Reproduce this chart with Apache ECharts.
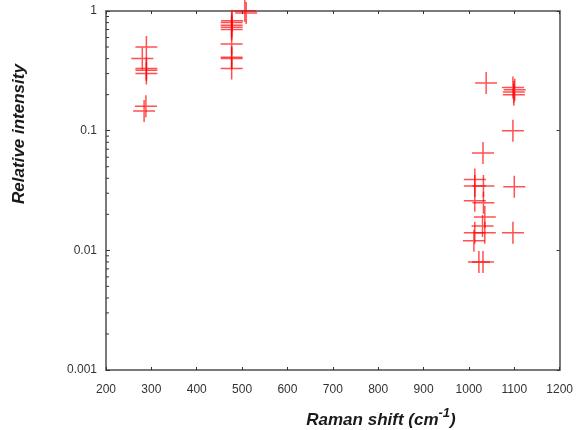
<!DOCTYPE html>
<html>
<head>
<meta charset="utf-8">
<script src="https://cdn.jsdelivr.net/npm/echarts@6/dist/echarts.min.js"></script>
<style>
html,body{margin:0;padding:0;background:#fff;}
#chart{width:576px;height:430px;}
</style>
</head>
<body>
<div id="chart"></div>
<script>
// Raman shift (cm^-1)
var ramanShift = [
  289, 280, 289, 289, 289, 288, 284,
  506, 509, 478, 477, 477, 477, 477, 477, 477, 477, 477,
  1038, 1097, 1101, 1099, 1099, 1097, 1031,
  1013, 1013, 1032, 1013, 1032, 1035, 1030, 1013, 1035, 1011,
  1100, 1097, 1022, 1031
];
// Relative intensity
var relIntensity = [
  0.50, 0.40, 0.33, 0.32, 0.30, 0.16, 0.146,
  1.0, 0.96, 0.83, 0.80, 0.76, 0.73, 0.70, 0.53, 0.41, 0.40, 0.33,
  0.25, 0.23, 0.22, 0.21, 0.20, 0.10, 0.065,
  0.039, 0.0345, 0.0345, 0.026, 0.025, 0.019, 0.016, 0.014, 0.014, 0.012,
  0.034, 0.014, 0.008, 0.008
];
var xTicks = [200, 300, 400, 500, 600, 700, 800, 900, 1000, 1100, 1200];
var yTickLabels = ['0.001', '0.01', '0.1', '1'];
var minorTickValues = [
  0.002, 0.003, 0.004, 0.005, 0.006, 0.007, 0.008, 0.009,
  0.02, 0.03, 0.04, 0.05, 0.06, 0.07, 0.08, 0.09,
  0.2, 0.3, 0.4, 0.5, 0.6, 0.7, 0.8, 0.9
];

var points = ramanShift.map(function (x, i) { return [x, relIntensity[i]]; });
var axisColor = '#7a7a7a';
var labelFont = 'Liberation Sans, Arial, sans-serif';

var chart = echarts.init(document.getElementById('chart'), null, {renderer: 'canvas'});
chart.setOption({
  animation: false,
  backgroundColor: '#ffffff',
  grid: {left: 106, right: 15, top: 11, bottom: 60, containLabel: false},
  xAxis: [{
    type: 'value', position: 'bottom',
    min: xTicks[0], max: xTicks[xTicks.length - 1], interval: 100,
    axisLine: {show: true, onZero: false, lineStyle: {color: axisColor, width: 2}},
    axisTick: {show: true, inside: true, length: 3, lineStyle: {color: '#333', width: 1}},
    axisLabel: {
      color: '#333', fontFamily: labelFont, fontSize: 12, margin: 14,
      formatter: function (v) { return String(v); }
    },
    splitLine: {show: false}
  }, {
    type: 'value', position: 'top',
    min: xTicks[0], max: xTicks[xTicks.length - 1], interval: 100,
    axisLine: {show: true, onZero: false, lineStyle: {color: axisColor, width: 2}},
    axisTick: {show: true, inside: true, length: 3, lineStyle: {color: '#333', width: 1}},
    axisLabel: {show: false},
    splitLine: {show: false}
  }],
  yAxis: [{
    type: 'log', logBase: 10, position: 'left',
    min: 0.001, max: 1,
    axisLine: {show: true, onZero: false, lineStyle: {color: axisColor, width: 2}},
    axisTick: {show: true, inside: true, length: 4, lineStyle: {color: '#333', width: 1}},
    axisLabel: {
      color: '#333', fontFamily: labelFont, fontSize: 12, margin: 9,
      formatter: function (v) {
        var e = Math.round(Math.log10(v));
        return yTickLabels[e + 3];
      }
    },
    splitLine: {show: false}
  }, {
    type: 'log', logBase: 10, position: 'right',
    min: 0.001, max: 1,
    axisLine: {show: true, onZero: false, lineStyle: {color: axisColor, width: 2}},
    axisTick: {show: true, inside: true, length: 3, lineStyle: {color: '#333', width: 1}},
    axisLabel: {show: false},
    splitLine: {show: false}
  }],
  series: [{
    type: 'custom',
    xAxisIndex: 0, yAxisIndex: 0,
    silent: true, clip: false,
    data: minorTickValues.map(function (v) { return [xTicks[0], v]; }),
    renderItem: function (params, api) {
      var p = api.coord([api.value(0), api.value(1)]);
      return {
        type: 'line',
        shape: {x1: p[0], y1: p[1], x2: p[0] + 3, y2: p[1]},
        style: {stroke: '#333', lineWidth: 1}
      };
    }
  }, {
    type: 'scatter',
    xAxisIndex: 0, yAxisIndex: 0,
    clip: false,
    data: points,
    symbol: 'path://M10,0 L10,20 M0,10 L20,10',
    symbolSize: 22,
    itemStyle: {color: 'transparent', borderColor: 'rgba(255,0,0,0.85)', borderWidth: 1.5},
    emphasis: {disabled: true}
  }],
  graphic: [{
    type: 'text',
    x: 19, y: 134,
    rotation: Math.PI / 2,
    style: {
      text: 'Relative intensity',
      font: 'italic bold 17px Liberation Sans, Arial, sans-serif',
      fill: '#1a1a1a',
      align: 'center', verticalAlign: 'middle'
    }
  }, {
    type: 'text',
    x: 381, y: 418,
    style: {
      text: '{a|Raman shift (cm}{s|-1}{a|)}',
      align: 'center', verticalAlign: 'middle',
      rich: {
        a: {font: 'italic bold 17px Liberation Sans, Arial, sans-serif', fill: '#1a1a1a', verticalAlign: 'bottom', lineHeight: 22},
        s: {font: 'italic bold 13px Liberation Sans, Arial, sans-serif', fill: '#1a1a1a', verticalAlign: 'top', lineHeight: 22, padding: [0, 0, 8, 0]}
      }
    }
  }]
});
</script>
</body>
</html>
